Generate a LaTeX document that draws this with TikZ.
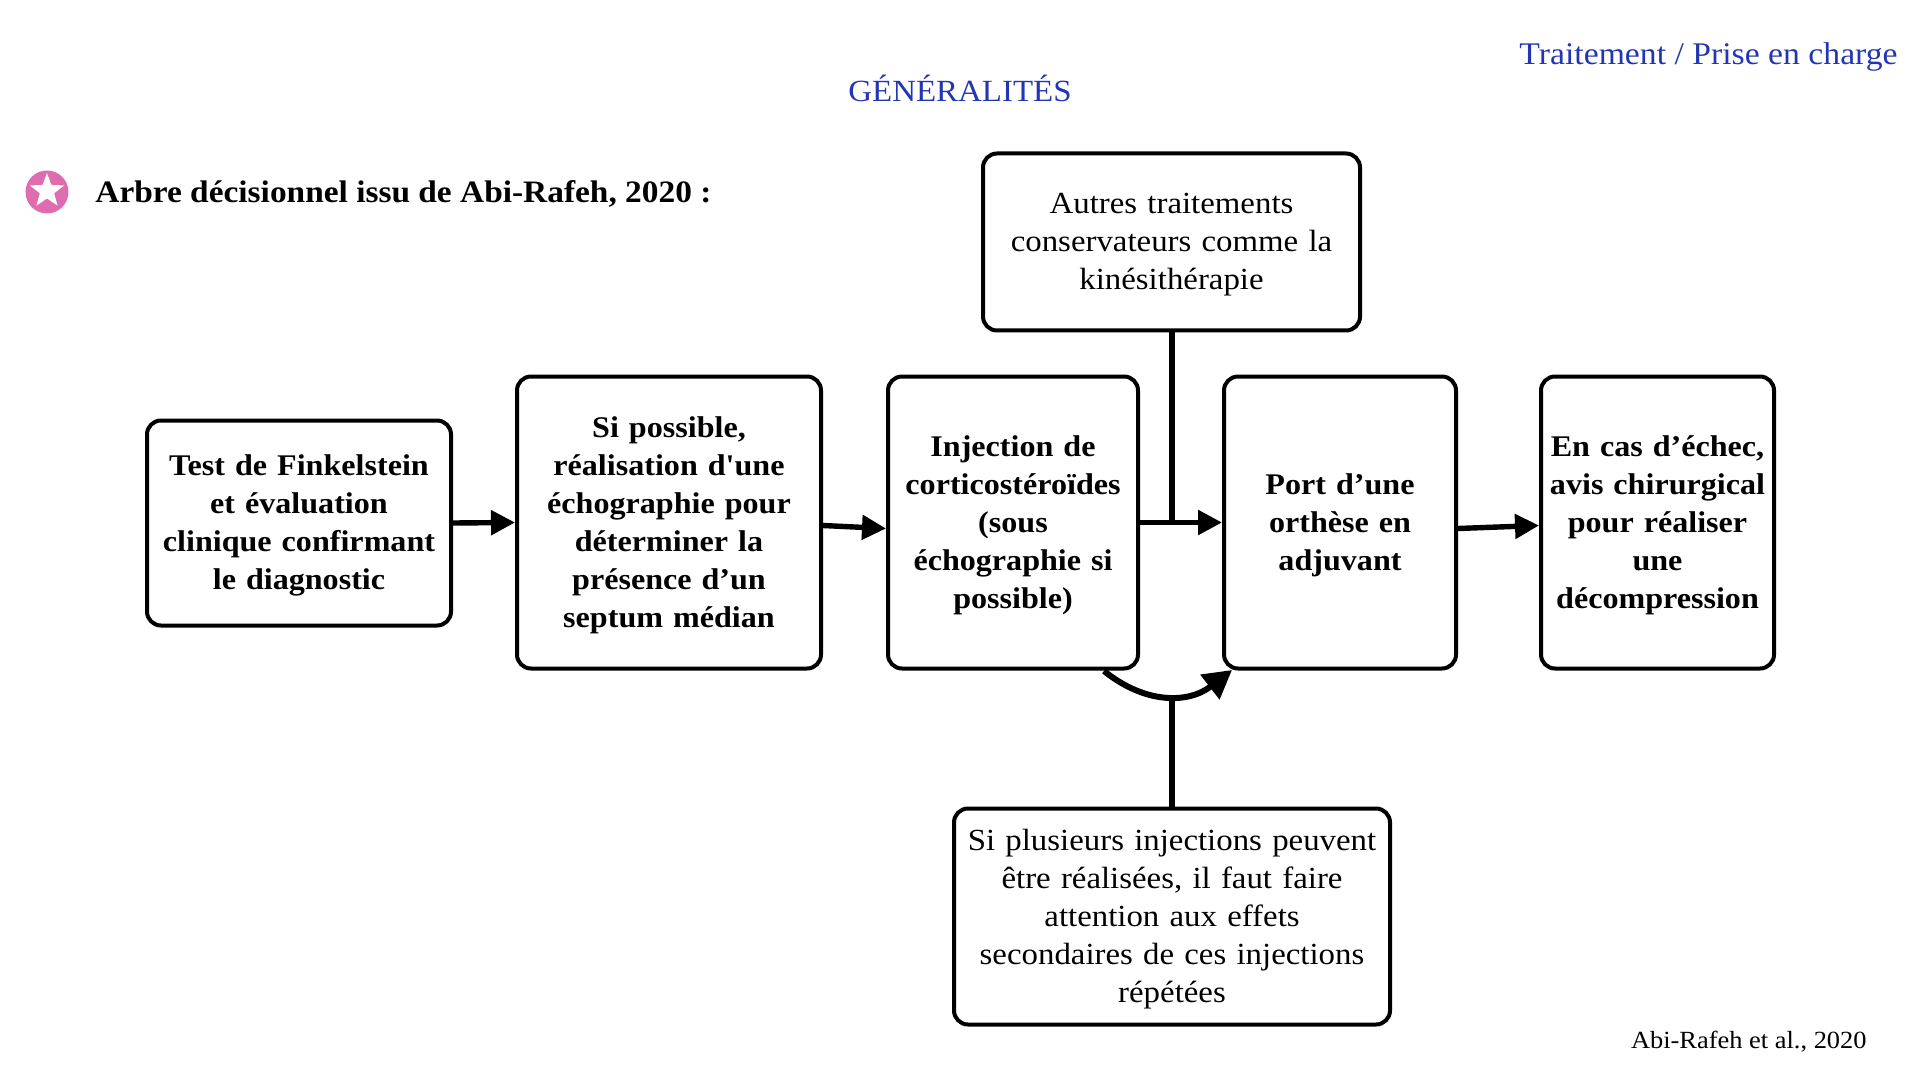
\documentclass[tikz,border=0pt]{standalone}
\usepackage{fontspec}
\setmainfont{Liberation Serif}[FakeStretch=1.07,Ligatures=TeXOff]
\usetikzlibrary{arrows.meta,calc,shapes.geometric}
\definecolor{titleblue}{HTML}{2236B4}
\definecolor{pinkstar}{HTML}{DE6CAE}
\tikzset{
  x=0.5pt,y=-0.5pt,
  boxbase/.style={draw=black,line width=2pt,rounded corners=7pt,fill=white,inner sep=0pt,align=center,font=\fontsize{15}{19}\selectfont},
  mainbox/.style={boxbase,font=\fontsize{15}{19}\selectfont\bfseries},
  sidebox/.style={boxbase,font=\fontsize{15.35}{19}\selectfont},
  flow/.style={line width=2.7pt,-{Triangle[length=12pt,width=12pt]}},
  bigflow/.style={line width=3pt,-{Triangle[length=14pt,width=15pt]}},
  plainline/.style={line width=3pt},
  bluetext/.style={text=titleblue,inner sep=0pt,font=\fontsize{15.75}{19}\selectfont},
}
\newcommand{\boxat}[7]{\node[#1,minimum width=#4*0.5pt,minimum height=#5*0.5pt,text width=#6*0.5pt] (#2) at (#3) {\rule{0pt}{13pt}#7\rule[-3pt]{0pt}{3pt}};}
\begin{document}
\begin{tikzpicture}
\useasboundingbox (0,0) rectangle (1920,1080);
\node[bluetext,font=\fontsize{15.4}{19}\selectfont] (title) at (960,88) {GÉNÉRALITÉS};
\node[bluetext,anchor=east] (section) at (1898,57) {Traitement / Prise en charge};
\node[circle,fill=pinkstar,minimum size=21.5pt,inner sep=0pt] (badge) at (47,192) {};
\node[star,star points=5,star point ratio=2.4,fill=white,minimum size=18pt,inner sep=0pt] (badgestar) at (47,191) {};
\node[anchor=west,inner sep=0pt,font=\fontsize{15.6}{19}\selectfont\bfseries] (heading) at (95,193.5) {Arbre décisionnel issu de Abi-Rafeh, 2020 :};
\boxat{mainbox}{b1}{299,523}{304}{205}{285}{Test de Finkelstein\\et évaluation\\clinique confirmant\\le diagnostic}
\boxat{mainbox}{b2}{669,522.5}{304}{292}{290}{Si possible,\\réalisation d'une\\échographie pour\\déterminer la\\présence d’un\\septum médian}
\boxat{mainbox}{b3}{1013,522.5}{250}{292}{245}{Injection de\\corticostéroïdes\\(sous\\échographie si\\possible)}
\boxat{mainbox}{b4}{1340,522.5}{232}{292}{220}{Port d’une\\orthèse en\\adjuvant}
\boxat{mainbox}{b5}{1657.5,522.5}{233}{292}{228}{En cas d’échec,\\avis chirurgical\\pour réaliser\\une\\décompression}
\boxat{sidebox}{top}{1171.5,242}{377}{177}{360}{Autres traitements\\conservateurs comme la\\kinésithérapie}
\boxat{sidebox}{bot}{1172,916.5}{436}{216}{430}{Si plusieurs injections peuvent\\être réalisées, il faut faire\\attention aux effets\\secondaires de ces injections\\répétées}
\node[anchor=east,inner sep=0pt,font=\fontsize{12.35}{16}\selectfont] (cite) at (1867,1042) {Abi-Rafeh et al., 2020};
\draw[flow] (b1.east) -- (b2.west);
\draw[flow] ($(b2.east)+(0,3)$) -- ($(b3.west)+(0,6)$);
\draw[flow] (b3.east) -- (b4.west);
\draw[flow] ($(b4.east)+(0,6)$) -- ($(b5.west)+(0,3)$);
\coordinate (tjoin) at (top.south |- b3.east);
\draw[plainline] (top.south) -- (tjoin);
\coordinate (curvestart) at (1104,671);
\coordinate (curveend) at (1232,670);
\draw[bigflow] (curvestart) .. controls (1145,704) and (1188,704) .. (curveend);
\coordinate (bjoin) at (bot.north |- 0,696);
\draw[plainline] (bot.north) -- (bjoin);
\end{tikzpicture}
\end{document}
